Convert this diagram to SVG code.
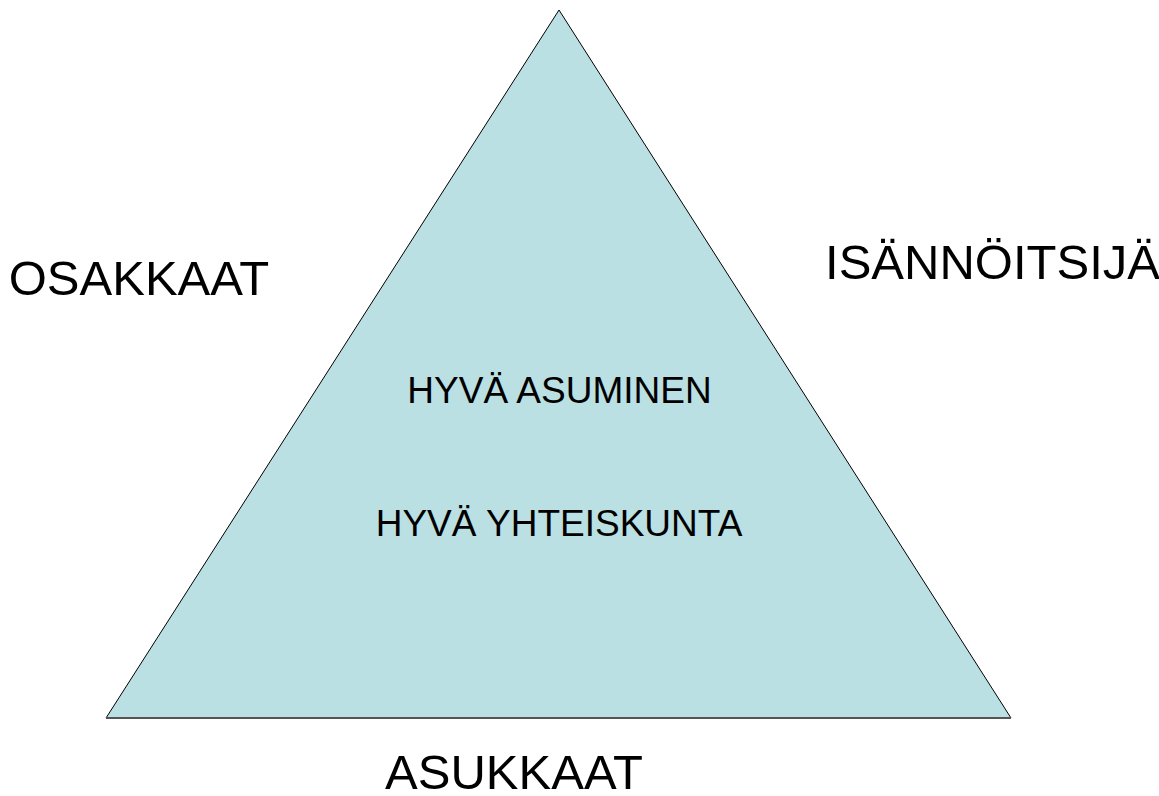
<svg xmlns="http://www.w3.org/2000/svg" width="1159" height="796" viewBox="0 0 1159 796">
<style>
.big{font-family:"Liberation Sans",Arial,sans-serif;font-size:49px;fill:#000;text-anchor:middle}
.mid{font-family:"Liberation Sans",Arial,sans-serif;font-size:37px;fill:#000;text-anchor:middle}
</style>
<rect width="1159" height="796" fill="#fff"/>
<g id="triangle">
<polygon points="559,10 106,718 1011,718" fill="#BBE0E3" stroke="#000" stroke-width="1"/>
<line x1="106" y1="718" x2="1011" y2="718" stroke="#555" stroke-width="2"/>
<text class="mid" x="559.5" y="403">HYVÄ ASUMINEN</text>
<text class="mid" x="559" y="536">HYVÄ YHTEISKUNTA</text>
</g>
<g id="osakkaat"><text class="big" x="139" y="295">OSAKKAAT</text></g>
<g id="isannoitsija"><text class="big" x="992.5" y="279">ISÄNNÖITSIJÄ</text></g>
<g id="asukkaat"><text class="big" x="514" y="789">ASUKKAAT</text></g>
<g id="connectors"/>
</svg>
